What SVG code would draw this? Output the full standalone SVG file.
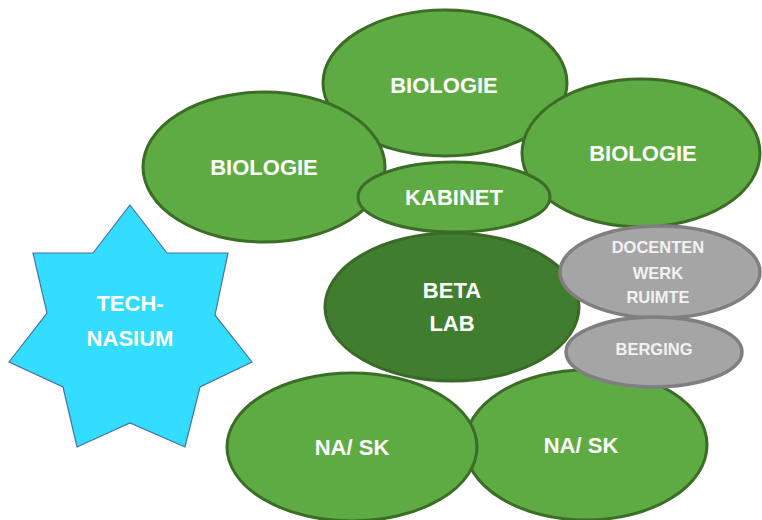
<svg xmlns="http://www.w3.org/2000/svg" width="762" height="520" viewBox="0 0 762 520">
<style>
.g{fill:#5eab43;stroke:#3b6d26;stroke-width:3}
.d{fill:#417d2e;stroke:#3a6a27;stroke-width:3}
.y{fill:#a5a5a5;stroke:#7f7f7f;stroke-width:3.5}
.s{fill:#33ddff;stroke:#4a6fa8;stroke-width:1.2}
text{font-family:"Liberation Sans",Arial,sans-serif;font-weight:bold;text-anchor:middle}
.t{fill:#ffffff;font-size:22px}
.u{fill:#f2f2f2;font-size:16.5px}
</style>
<rect width="762" height="520" fill="#ffffff"/>
<g id="connectors"></g>
<g id="bio-top"><ellipse class="g" cx="445" cy="83" rx="122" ry="73"/><text class="t" x="444" y="93">BIOLOGIE</text></g>
<g id="bio-left"><ellipse class="g" cx="264" cy="167" rx="121" ry="75"/><text class="t" x="264" y="175">BIOLOGIE</text></g>
<g id="bio-right"><ellipse class="g" cx="641" cy="153" rx="119" ry="74"/><text class="t" x="643" y="161">BIOLOGIE</text></g>
<g id="kabinet"><ellipse class="g" cx="454" cy="197" rx="96" ry="35"/><text class="t" x="454" y="205">KABINET</text></g>
<g id="betalab"><ellipse class="d" cx="452" cy="307" rx="127" ry="74"/><text class="t" x="452" y="298">BETA</text><text class="t" x="452" y="331">LAB</text></g>
<g id="nask-right"><ellipse class="g" cx="586" cy="445" rx="121" ry="75"/><text class="t" x="581" y="453">NA/ SK</text></g>
<g id="nask-left"><ellipse class="g" cx="352" cy="447" rx="125" ry="74"/><text class="t" x="352" y="455">NA/ SK</text></g>
<g id="docenten"><ellipse class="y" cx="660" cy="272" rx="100" ry="46"/><text class="u" x="658" y="253">DOCENTEN</text><text class="u" x="658" y="279">WERK</text><text class="u" x="658" y="303">RUIMTE</text></g>
<g id="berging"><ellipse class="y" cx="654" cy="352" rx="88" ry="35"/><text class="u" x="654" y="355">BERGING</text></g>
<g id="technasium"><polygon class="s" points="130,205 167,253 228,253 215,315 252,362 200,387 185,447 130,423 77,447 63,387 9,362 47,313 33,253 93,253"/><text class="t" x="130" y="311">TECH-</text><text class="t" x="130" y="346">NASIUM</text></g>
</svg>
